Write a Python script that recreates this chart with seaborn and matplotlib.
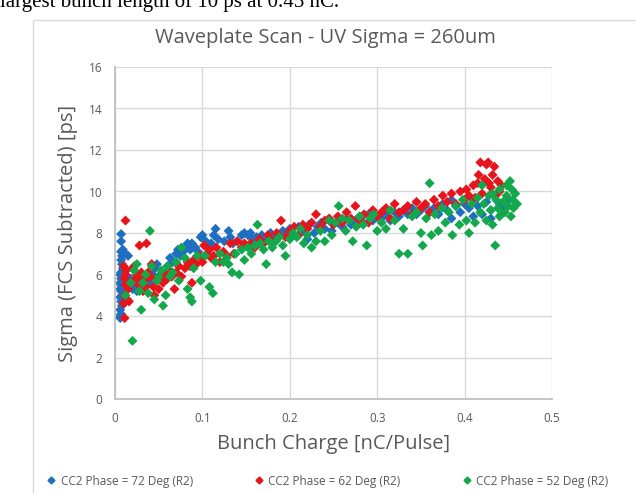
import numpy as np
import pandas as pd
import matplotlib; matplotlib.use("Agg")
import matplotlib.pyplot as plt
import matplotlib.patches as mpatches
import seaborn as sns

# ---- data (bunch charge [nC], sigma [ps]) ----
blue_x = [0.006,0.007,0.006,0.008,0.007,0.006,0.008,0.007,0.006,0.008,0.007,0.006,0.009,0.007,0.008,0.006,
          0.007,0.009,0.008,0.007,0.008,0.010,0.007,0.009,0.012,0.015,0.007,0.007,0.006,0.009,0.010,0.011,
          0.015,0.020,0.022,0.025,0.028,0.030,0.033,0.036,0.040,0.043,0.046,0.048,0.018,
          0.052,0.055,0.060,0.063,0.066,0.070,0.072,0.075,0.078,0.080,0.083,0.086,0.088,0.092,0.095,0.098,0.100,
          0.104,0.108,0.110,0.113,0.115,0.118,0.125,0.130,0.132,0.135,0.140,0.145,0.148,
          0.152,0.155,0.158,0.162,0.168,0.172,0.178,0.182,0.188,0.192,0.198,0.200,0.205,0.210,0.215,0.220,
          0.222,0.228,0.232,0.236,0.240,0.245,0.248,
          0.255,0.260,0.265,0.270,0.275,0.280,0.284,0.290,0.295,0.300,0.305,0.310,0.315,0.320,0.325,0.330,
          0.335,0.340,0.345,0.350,
          0.355,0.360,0.365,0.370,0.375,0.380,0.385,0.390,0.395,0.400,0.405,0.410,0.415,0.420,0.425,0.430,
          0.435,0.440,0.445,0.450,0.410,0.430,0.385]
blue_y = [3.9,4.1,4.3,4.5,4.7,4.9,5.0,5.2,5.3,5.4,5.5,5.6,5.7,5.8,5.9,6.0,
          6.1,6.3,6.5,6.7,6.9,7.0,7.1,7.2,7.0,6.9,7.6,7.95,4.0,6.2,5.1,4.8,
          5.5,5.3,5.6,5.2,5.5,5.8,5.4,5.7,5.6,6.0,6.3,6.5,5.8,
          6.0,5.9,6.4,6.8,6.6,7.0,7.2,6.9,7.1,7.3,7.5,7.2,7.5,7.3,7.1,7.8,7.9,
          7.6,7.4,7.5,7.9,8.2,7.7,7.6,8.1,7.8,7.5,7.6,7.9,8.0,
          7.9,8.0,7.7,7.8,7.9,7.6,8.0,7.8,7.9,8.1,8.0,8.2,7.9,8.3,8.1,7.7,
          8.4,8.0,8.3,8.5,8.2,8.6,8.1,
          8.5,8.3,8.7,8.4,8.6,8.8,8.5,8.9,8.6,8.8,8.7,8.9,8.6,9.0,8.8,9.1,
          8.9,9.2,8.9,9.1,
          9.3,9.0,9.2,8.9,9.4,9.1,9.6,9.3,9.0,9.4,9.2,9.6,9.3,8.9,9.5,9.1,
          9.8,9.4,9.2,9.6,8.8,8.7,8.7]

red_x = [0.012,0.011,0.010,0.012,0.014,0.016,0.011,0.012,0.013,0.010,0.012,0.015,0.011,
         0.018,0.020,0.022,0.024,0.025,0.027,0.028,0.030,0.032,0.034,0.036,0.038,0.040,0.042,0.044,0.045,
         0.047,0.050,0.030,0.035,
         0.052,0.055,0.058,0.060,0.062,0.065,0.068,0.070,0.073,0.076,0.080,0.083,0.086,0.088,0.090,0.093,
         0.096,0.100,
         0.102,0.105,0.108,0.110,0.113,0.116,0.120,0.124,0.128,0.132,0.136,0.140,0.145,0.148,
         0.155,0.160,0.165,0.170,0.175,0.180,0.185,0.190,0.195,0.200,0.205,0.210,0.215,0.220,0.225,0.230,
         0.235,0.240,0.245,0.250,
         0.255,0.260,0.265,0.270,0.275,0.280,0.285,0.290,0.295,0.300,0.305,0.310,0.315,0.320,0.325,0.330,
         0.335,0.340,0.345,0.350,
         0.355,0.360,0.365,0.370,0.375,0.380,0.385,0.390,0.395,0.400,0.402,0.405,0.410,0.412,0.415,0.418,
         0.420,0.423,0.425,0.427,0.430,0.432,0.435,0.438,0.440,0.442,0.434,0.416,0.428]
red_y = [8.6,3.9,4.6,4.7,4.8,4.7,5.8,6.0,6.2,6.4,5.5,5.3,5.0,
         5.6,6.3,6.4,5.8,6.0,5.5,7.4,5.9,5.2,5.7,7.5,6.1,5.9,6.5,5.4,5.0,
         5.8,5.3,6.1,5.4,
         5.9,5.6,6.0,5.8,6.2,5.9,5.3,6.1,6.4,5.9,6.3,6.6,6.4,5.6,6.7,6.5,
         6.9,6.6,
         7.4,7.0,7.2,6.8,6.9,7.3,6.6,7.1,6.9,7.5,7.0,7.6,7.3,7.5,
         7.5,7.3,7.7,7.5,7.9,7.6,8.0,8.6,7.8,8.1,8.3,7.9,8.4,8.2,8.5,8.9,
         8.3,8.6,8.7,8.4,
         8.8,8.5,9.0,8.7,9.3,8.6,8.9,8.5,9.1,8.8,9.0,9.2,8.7,9.4,9.0,9.1,
         9.3,8.9,9.5,9.2,
         9.4,9.0,9.6,9.3,9.8,9.5,9.9,9.4,10.0,9.6,10.1,9.8,10.3,9.7,10.4,11.4,
         9.9,10.6,11.3,11.4,10.2,10.8,9.8,10.5,10.0,10.3,11.2,10.8,10.4]

green_x = [0.012,0.020,0.018,0.022,0.025,0.028,0.030,0.032,0.035,0.038,0.040,0.042,0.045,0.048,0.050,
           0.053,0.055,0.058,0.060,0.063,0.066,0.070,0.073,0.076,0.080,0.083,0.086,0.088,0.090,0.094,0.098,
           0.103,0.108,0.112,0.115,0.120,0.124,0.128,0.130,0.134,0.138,0.142,0.145,0.148,
           0.152,0.156,0.160,0.163,0.166,0.170,0.173,0.176,0.180,0.184,0.188,0.192,0.195,0.200,0.204,0.208,
           0.212,0.216,0.220,0.225,0.230,0.235,0.240,0.245,0.248,
           0.252,0.256,0.260,0.264,0.268,0.272,0.276,0.280,0.284,0.288,0.292,0.296,0.300,0.305,0.310,0.315,
           0.320,0.325,0.330,0.335,0.340,0.345,0.350,0.352,
           0.356,0.360,0.362,0.366,0.370,0.374,0.378,0.382,0.386,0.390,0.394,0.398,0.402,0.405,0.408,0.412,
           0.415,0.418,0.420,0.422,0.425,0.428,0.430,0.432,0.435,0.436,0.438,0.440,0.442,0.444,0.446,0.448,
           0.450,0.452,0.453,0.455,0.456,0.458,0.460,0.448,0.440,0.432,0.454]
green_y = [5.0,2.8,5.6,6.2,6.5,5.2,4.3,5.6,6.0,5.1,8.1,6.4,4.8,5.7,5.9,
           6.2,4.5,5.0,6.4,5.9,6.1,6.6,5.7,7.3,6.8,5.3,4.9,4.7,6.3,6.9,5.7,
           6.9,5.4,5.1,6.6,7.0,6.6,6.8,6.5,6.1,7.0,6.0,7.2,6.7,
           7.3,7.0,7.4,8.4,7.5,7.2,6.5,7.6,7.3,7.6,7.8,7.4,6.9,7.7,8.0,7.8,
           8.2,7.5,7.9,7.3,7.6,8.1,7.6,8.6,7.9,
           8.5,9.3,8.7,8.1,8.6,7.6,8.3,8.8,8.4,7.4,8.7,8.9,8.1,8.5,8.2,9.1,
           8.6,7.0,8.2,7.0,8.8,9.0,8.0,7.4,
           8.7,10.4,7.9,8.9,8.1,9.2,8.5,9.0,7.9,9.3,8.4,9.6,8.6,8.0,9.4,8.5,
           9.7,9.0,10.3,9.4,8.6,9.8,9.1,8.4,7.4,9.6,9.2,10.1,8.9,9.5,9.0,9.8,
           9.3,10.5,8.8,9.6,9.2,9.9,9.4,10.3,8.8,9.9,10.1]

series_names = ["CC2 Phase = 72 Deg (R2)", "CC2 Phase = 62 Deg (R2)", "CC2 Phase = 52 Deg (R2)"]
colors = ["#1F6FC0", "#E8141B", "#14A84C"]

frames = []
for name, xs, ys in zip(series_names, [blue_x, red_x, green_x], [blue_y, red_y, green_y]):
    frames.append(pd.DataFrame({"charge": xs, "sigma": ys, "series": name}))
df = pd.concat(frames, ignore_index=True)

sns.set_theme(style="white")
plt.rcParams["font.family"] = ["Open Sans", "DejaVu Sans"]
txt = "#595959"
grid = "#D9D9D9"

fig = plt.figure(figsize=(6.36, 4.94), dpi=100)
ax = fig.add_axes([115/636, 1 - 399/494, (552 - 115)/636, (399 - 67)/494])

sns.scatterplot(data=df, x="charge", y="sigma", hue="series", hue_order=series_names,
                palette=colors, marker="D", s=26, linewidth=0, ax=ax, legend=False)

ax.set_xlim(0, 0.5)
ax.set_ylim(0, 16)
ax.set_xticks([0, 0.1, 0.2, 0.3, 0.4, 0.5])
ax.set_xticklabels(["0", "0.1", "0.2", "0.3", "0.4", "0.5"])
ax.set_yticks(range(0, 17, 2))
ax.grid(True, color=grid, lw=1)
ax.set_axisbelow(True)
for s in ["top", "right"]:
    ax.spines[s].set_visible(False)
for s in ["left", "bottom"]:
    ax.spines[s].set_color("#BFBFBF")
ax.tick_params(axis="both", length=0, labelsize=8.5, colors=txt, pad=9)
ax.set_xlabel("Bunch Charge [nC/Pulse]", fontsize=14.5, color=txt, labelpad=7)
ax.set_ylabel("Sigma (FCS Subtracted) [ps]", fontsize=14.5, color=txt, labelpad=8)

fig.text(325/636, 1 - 38/494, "Waveplate Scan - UV Sigma = 260um", ha="center", va="center",
         fontsize=14.5, color=txt)

# chart-area frame (screenshot of an embedded chart)
fig.patches.append(mpatches.Rectangle((33/636, -0.1), 1.0, 1 - 20/494 + 0.1, transform=fig.transFigure,
                                      fill=False, edgecolor=grid, lw=1))
# cut-off line of body text above the chart, as in the screenshot
fig.text(0.0, 0.995, "largest bunch length of 10 ps at 0.45 nC.", ha="left", va="center",
         fontsize=15, family="Liberation Serif", color="black")

handles = [plt.Line2D([], [], marker="D", ls="", color=c, markersize=3.5) for c in colors]
fig.legend(handles, series_names, loc="center", bbox_to_anchor=(0.515, 1 - 481/494), ncol=3,
           frameon=False, fontsize=8.5, labelcolor=txt, handletextpad=0.4, columnspacing=5.2,
           handlelength=0.8)

fig.savefig("out.png", dpi=100)
